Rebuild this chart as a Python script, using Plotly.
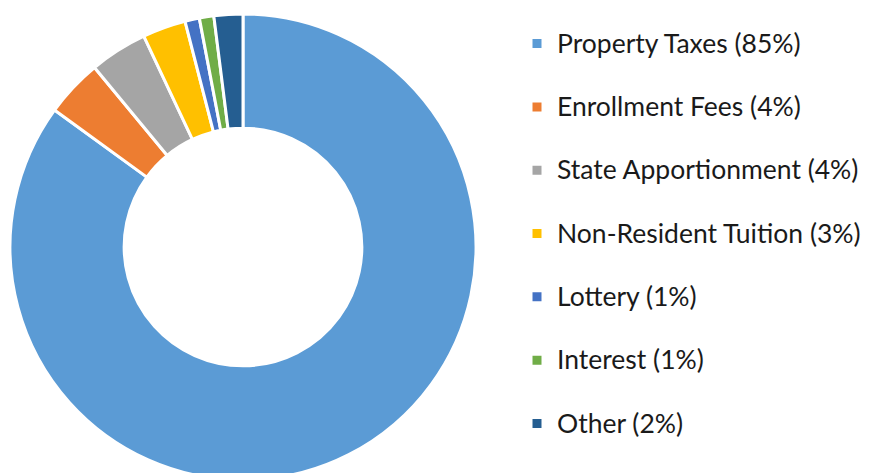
import plotly.graph_objects as go

labels = ["Property Taxes (85%)", "Enrollment Fees (4%)", "State Apportionment (4%)",
          "Non-Resident Tuition (3%)", "Lottery (1%)", "Interest (1%)", "Other (2%)"]
values = [85, 4, 4, 3, 1, 1, 2]
colors = ["#5B9BD5", "#ED7D31", "#A5A5A5", "#FFC000", "#4472C4", "#70AD47", "#255E91"]

W, H = 873, 473
OFF = 8  # page body margin
legend_text = [f"<span style='font-size:26.5px'>{l}</span><br> " for l in labels]

cx, cy, r = 243 - OFF, 247 - OFF, 233
fig = go.Figure(go.Pie(
    labels=legend_text,
    values=values,
    hole=0.51,
    sort=False,
    direction="clockwise",
    rotation=0,
    textinfo="none",
    marker=dict(colors=colors, line=dict(color="white", width=3)),
    domain=dict(x=[(cx - r) / W, (cx + r) / W], y=[1 - (cy + r) / H, 1 - (cy - r) / H]),
))

fig.update_layout(
    width=W, height=H,
    margin=dict(l=0, r=0, t=0, b=0),
    paper_bgcolor="white",
    font=dict(family="Lato, sans-serif", color="#1a1a1a"),
    legend=dict(
        x=(517 - OFF) / W, xanchor="left", y=1 - (22 - OFF) / H, yanchor="top",
        font=dict(size=23.2, color="#1a1a1a"),
        valign="top",
        itemclick=False,
        bgcolor="rgba(0,0,0,0)",
    ),
    showlegend=True,
)

fig.write_html("out.html")
